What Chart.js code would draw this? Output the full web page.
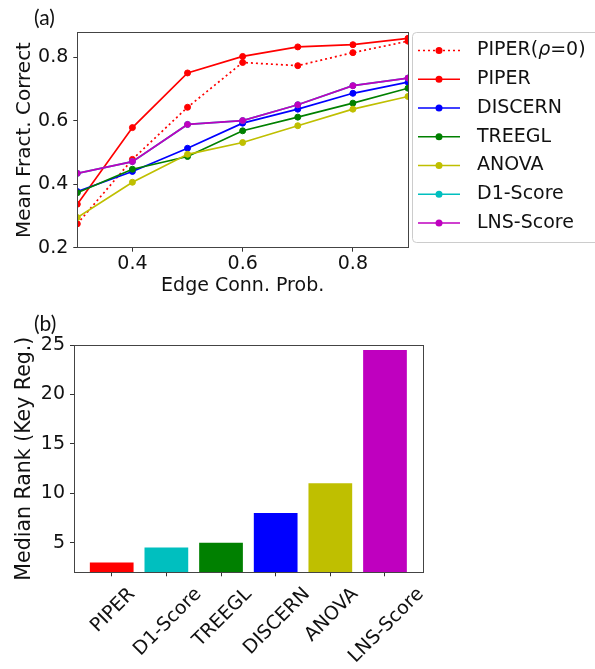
<!DOCTYPE html>
<html>
<head>
<meta charset="utf-8">
<script src="https://cdn.jsdelivr.net/npm/chart.js@4.4.0/dist/chart.umd.min.js"></script>
<style>
body{margin:0;background:#fff;}
canvas{position:absolute;left:0;}
#c1{top:0;}
#c2{top:300px;}
</style>
</head>
<body>
<canvas id="c1" width="595" height="300"></canvas>
<canvas id="c2" width="595" height="369"></canvas>
<script>
// (a) mean fraction correct vs edge connection probability
var edgeProb=[0.3,0.4,0.5,0.6,0.7,0.8,0.9];
var piperRho0=[0.275,0.478,0.642,0.783,0.773,0.814,0.850];
var piper=[0.337,0.578,0.750,0.802,0.832,0.839,0.859];
var discern=[0.377,0.440,0.513,0.592,0.636,0.686,0.721];
var treegl=[0.373,0.447,0.487,0.568,0.611,0.655,0.702];
var anova=[0.295,0.406,0.494,0.531,0.584,0.636,0.676];
var d1Score=[0.434,0.471,0.588,0.600,0.650,0.710,0.734];
var lnsScore=[0.434,0.471,0.588,0.600,0.650,0.710,0.734];
var xTicksA=[0.4,0.6,0.8];
var yTicksA=[0.2,0.4,0.6,0.8];

// (b) median rank of key regulators
var methods=['PIPER','D1-Score','TREEGL','DISCERN','ANOVA','LNS-Score'];
var medianRank=[3,4.5,5,8,11,24.5];
var yTicksB=[5,10,15,20,25];

var RED='#ff0000',BLUE='#0000ff',GREEN='#008000',OLIVE='#bfbf00',CYAN='#00bfbf',MAG='#bf00bf';
var FONT='"DejaVu Sans"';
var TXT='#111';

Chart.defaults.font.family=FONT;
Chart.defaults.font.size=19;
Chart.defaults.color=TXT;

function serie(label,vals,color,dash,n){
  return {
    label:label,
    data:edgeProb.map(function(x,i){return {x:x,y:vals[i]};}),
    borderColor:color,
    backgroundColor:color,
    borderWidth:1.7,
    borderDash:dash,
    pointRadius:3,
    pointBorderWidth:1,
    pointHoverRadius:3,
    order:n
  };
}

var sets=[
  serie('PIPER(\u03c1=0)',piperRho0,RED,[2,3],7),
  serie('PIPER',piper,RED,[],6),
  serie('DISCERN',discern,BLUE,[],5),
  serie('TREEGL',treegl,GREEN,[],4),
  serie('ANOVA',anova,OLIVE,[],3),
  serie('D1-Score',d1Score,CYAN,[],2),
  serie('LNS-Score',lnsScore,MAG,[],1)
];

function frame(chart){
  var a=chart.chartArea, ctx=chart.ctx;
  ctx.save();
  ctx.strokeStyle='#444';
  ctx.lineWidth=1;
  ctx.strokeRect(Math.round(a.left)+0.5,Math.round(a.top)+0.5,Math.round(a.right-a.left),Math.round(a.bottom-a.top));
  ctx.restore();
}

function panelTag(ctx,t,x,y){
  ctx.save();
  ctx.font='21px Lato';
  ctx.fillStyle=TXT;
  ctx.textBaseline='middle';
  ctx.fillText(t,x,y);
  ctx.restore();
}

var legendPlugin={
  id:'boxlegend',
  afterDraw:function(chart){
    var ctx=chart.ctx;
    frame(chart);
    panelTag(ctx,'(a)',34,18.5);
    ctx.save();
    ctx.fillStyle='rgba(255,255,255,0.8)';
    ctx.strokeStyle='#cccccc';
    ctx.lineWidth=1;
    ctx.beginPath();
    ctx.roundRect(412.5,32.5,200,210,4);
    ctx.fill();
    ctx.stroke();
    chart.data.datasets.forEach(function(d,i){
      var y=50.5+i*28.75;
      ctx.strokeStyle=d.borderColor;
      ctx.lineWidth=1.7;
      ctx.setLineDash(d.borderDash);
      ctx.beginPath();
      ctx.moveTo(418,y);ctx.lineTo(460,y);
      ctx.stroke();
      ctx.setLineDash([]);
      ctx.fillStyle=d.borderColor;
      ctx.beginPath();
      ctx.arc(439,y,3.5,0,Math.PI*2);
      ctx.fill();
      ctx.fillStyle=TXT;
      ctx.textBaseline='middle';
      var x=477;
      var parts=d.label.split('\u03c1');
      ctx.font='19px '+FONT;
      ctx.fillText(parts[0],x,y);
      if(parts.length>1){
        x+=ctx.measureText(parts[0]).width;
        ctx.font='oblique 19px '+FONT;
        ctx.fillText('\u03c1',x,y);
        x+=ctx.measureText('\u03c1').width;
        ctx.font='19px '+FONT;
        ctx.fillText(parts[1],x,y);
      }
    });
    ctx.restore();
  }
};

new Chart(document.getElementById('c1'),{
  type:'line',
  data:{datasets:sets},
  options:{
    responsive:false,
    animation:false,
    layout:{padding:{left:0,right:187,top:32.3,bottom:0}},
    plugins:{legend:{display:false},tooltip:{enabled:false}},
    scales:{
      x:{
        type:'linear',min:0.3,max:0.9,
        afterBuildTicks:function(s){s.ticks=xTicksA.map(function(v){return {value:v};});},
        afterFit:function(s){s.height=52.3;},
        grid:{drawOnChartArea:false,tickLength:4,color:'#333'},
        border:{display:false},
        ticks:{padding:1,maxRotation:0,autoSkip:false,callback:function(v){return v.toFixed(1);}},
        title:{display:true,text:'Edge Conn. Prob.',padding:{top:0,bottom:2.8}}
      },
      y:{
        min:0.2,max:0.878,
        afterBuildTicks:function(s){s.ticks=yTicksA.map(function(v){return {value:v};});},
        afterFit:function(s){s.width=77.3;},
        grid:{drawOnChartArea:false,tickLength:4,color:'#333'},
        border:{display:false},
        ticks:{padding:5,callback:function(v){return v.toFixed(1);}},
        title:{display:true,text:'Mean Fract. Correct',font:{size:20},padding:{top:13,bottom:0}}
      }
    }
  },
  plugins:[legendPlugin]
});

var barColors=[RED,CYAN,GREEN,BLUE,OLIVE,MAG];

var rotLabels={
  id:'rotlabels',
  afterDraw:function(chart){
    var ctx=chart.ctx, sc=chart.scales.x, bottom=chart.chartArea.bottom;
    frame(chart);
    panelTag(ctx,'(b)',34,24.7);
    ctx.save();
    ctx.font='19px '+FONT;
    ctx.fillStyle=TXT;
    var cap=19*0.73;
    methods.forEach(function(m,i){
      var x=sc.getPixelForValue(i);
      var w=ctx.measureText(m).width;
      var half=(w+cap)*0.7071/2;
      ctx.save();
      ctx.translate(x,bottom+12.7+half);
      ctx.rotate(-Math.PI/4);
      ctx.textAlign='center';
      ctx.textBaseline='alphabetic';
      ctx.fillText(m,0,cap/2);
      ctx.restore();
    });
    ctx.restore();
  }
};

new Chart(document.getElementById('c2'),{
  type:'bar',
  data:{datasets:[{
    data:methods.map(function(m,i){return {x:i,y:medianRank[i]};}),
    backgroundColor:barColors,
    borderWidth:0,
    barPercentage:0.8,
    categoryPercentage:1
  }]},
  options:{
    responsive:false,
    animation:false,
    layout:{padding:{left:0,right:172.3,top:45,bottom:0}},
    plugins:{legend:{display:false},tooltip:{enabled:false}},
    scales:{
      x:{
        type:'linear',min:-0.69,max:5.69,offset:false,
        afterBuildTicks:function(s){s.ticks=methods.map(function(m,i){return {value:i};});},
        afterFit:function(s){s.height=96.7;},
        grid:{drawOnChartArea:false,offset:false,tickLength:4,color:'#333'},
        border:{display:false},
        ticks:{display:false}
      },
      y:{
        min:2,max:25,
        afterBuildTicks:function(s){s.ticks=yTicksB.map(function(v){return {value:v};});},
        afterFit:function(s){s.width=74;},
        grid:{drawOnChartArea:false,tickLength:4,color:'#333'},
        border:{display:false},
        ticks:{padding:5},
        title:{display:true,text:'Median Rank (Key Reg.)',font:{size:20.5},padding:{top:12,bottom:0}}
      }
    }
  },
  plugins:[rotLabels]
});
</script>
</body>
</html>
